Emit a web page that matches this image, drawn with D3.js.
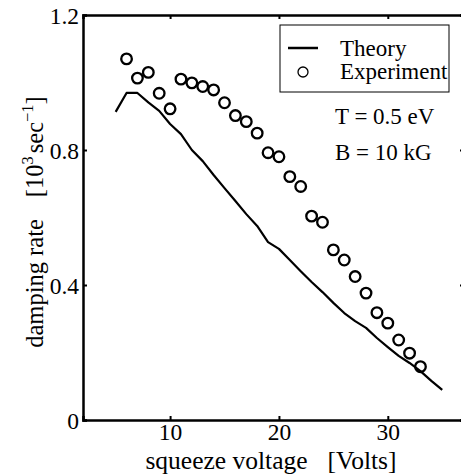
<!DOCTYPE html>
<html><head><meta charset="utf-8">
<script src="https://cdn.jsdelivr.net/npm/d3@7"></script>
<style>html,body{margin:0;padding:0;background:#fff;}svg{display:block;}</style>
</head><body>
<svg id="c" width="461" height="475"></svg>
<script>
const theoryV = [5,6,7,8,9,10,11,12,13,14,15,16,17,18,19,20,21,22,23,24,25,26,27,28,29,30,31,32,33,34,35];
const theoryD = [0.913,0.969,0.969,0.941,0.916,0.877,0.847,0.800,0.767,0.726,0.687,0.649,0.610,0.575,0.527,0.507,0.474,0.441,0.409,0.379,0.347,0.317,0.293,0.273,0.243,0.216,0.190,0.169,0.145,0.116,0.089];
const expV = [6,7,8,9,10,11,12,13,14,15,16,17,18,19,20,21,22,23,24,25,26,27,28,29,30,31,32,33];
const expD = [1.070,1.013,1.030,0.968,0.922,1.010,0.999,0.988,0.978,0.940,0.902,0.884,0.850,0.792,0.780,0.721,0.692,0.604,0.586,0.504,0.474,0.425,0.376,0.318,0.287,0.237,0.198,0.158];
const xTicks = [10,20,30];
const yTicks = [0,0.4,0.8,1.2];
const yTickLabels = ["0","0.4","0.8","1.2"];
const legendLabels = ["Theory","Experiment"];
const annotations = ["T = 0.5 eV","B = 10 kG"];

const svg = d3.select("#c");
const font = "'Liberation Serif','Times New Roman',serif";
const x = d3.scaleLinear().domain([2,37]).range([83,464]);
const y = d3.scaleLinear().domain([0,1.2]).range([420,15]);

// theory line
svg.append("path")
  .datum(theoryV.map((v,i)=>[v,theoryD[i]]))
  .attr("d", d3.line().x(d=>x(d[0])).y(d=>y(d[1])))
  .attr("fill","none").attr("stroke","#000").attr("stroke-width",2.2).attr("stroke-linejoin","round");

// experiment circles
svg.selectAll("circle.exp").data(expV.map((v,i)=>[v,expD[i]])).enter()
  .append("circle").attr("class","exp")
  .attr("cx",d=>x(d[0])).attr("cy",d=>y(d[1])).attr("r",5.3)
  .attr("fill","none").attr("stroke","#000").attr("stroke-width",2.3);

// axes (frame)
const gB = svg.append("g").attr("transform","translate(0,420)")
  .call(d3.axisBottom(x).tickValues(xTicks).tickSize(-4).tickFormat(d3.format("d")));
const gT = svg.append("g").attr("transform","translate(0,15)")
  .call(d3.axisTop(x).tickValues(xTicks).tickSize(-4).tickFormat(""));
const gL = svg.append("g").attr("transform","translate(83,0)")
  .call(d3.axisLeft(y).tickValues(yTicks).tickSize(-4).tickFormat((d,i)=>yTickLabels[i]));
const gR = svg.append("g").attr("transform","translate(464,0)")
  .call(d3.axisRight(y).tickValues(yTicks).tickSize(-4).tickFormat(""));
[gB,gT,gL,gR].forEach(g=>{
  g.select(".domain").attr("stroke","#000").attr("stroke-width",2.5);
  g.selectAll(".tick line").attr("stroke","#000").attr("stroke-width",2);
  g.selectAll("text").attr("font-family",font).attr("font-size",23.5).attr("fill","#000");
});
gB.selectAll(".tick text").attr("dy",null).attr("y",20);
gL.selectAll(".tick text").attr("x",-4).attr("dy","0.36em");

// x-axis label
const xl = svg.append("text").attr("x",271).attr("y",469).attr("text-anchor","middle")
  .attr("font-family",font).attr("font-size",25.5).attr("fill","#000");
xl.append("tspan").text("squeeze voltage");
xl.append("tspan").attr("dx",20).text("[Volts]");

// y-axis label
const yl = svg.append("text").attr("transform","translate(43,222) rotate(-90)")
  .attr("text-anchor","middle").attr("font-family",font).attr("font-size",24.5).attr("fill","#000");
yl.append("tspan").text("damping rate");
yl.append("tspan").attr("dx",22).text("[10");
yl.append("tspan").attr("font-size",16.5).attr("dy",-10).text("3");
yl.append("tspan").attr("dy",10).attr("dx",3).text("sec");
yl.append("tspan").attr("font-size",16.5).attr("dy",-10).text("\u22121");
yl.append("tspan").attr("dy",10).text("]");

// legend
const lg = svg.append("g");
lg.append("rect").attr("x",280).attr("y",25).attr("width",169).attr("height",67)
  .attr("fill","#fff").attr("stroke","#000").attr("stroke-width",1);
lg.append("line").attr("x1",288).attr("x2",318).attr("y1",48).attr("y2",48)
  .attr("stroke","#000").attr("stroke-width",2.5);
lg.append("circle").attr("cx",303).attr("cy",72).attr("r",5).attr("fill","none")
  .attr("stroke","#000").attr("stroke-width",1.3);
lg.selectAll("text").data(legendLabels).enter().append("text")
  .attr("x",340).attr("y",(d,i)=>56+i*23).text(d=>d)
  .attr("font-family",font).attr("font-size",23).attr("fill","#000");

// annotations
svg.selectAll("text.ann").data(annotations).enter().append("text").attr("class","ann")
  .attr("x",335).attr("y",(d,i)=>124+i*36).text(d=>d)
  .attr("font-family",font).attr("font-size",23).attr("fill","#000");
</script>
</body></html>
